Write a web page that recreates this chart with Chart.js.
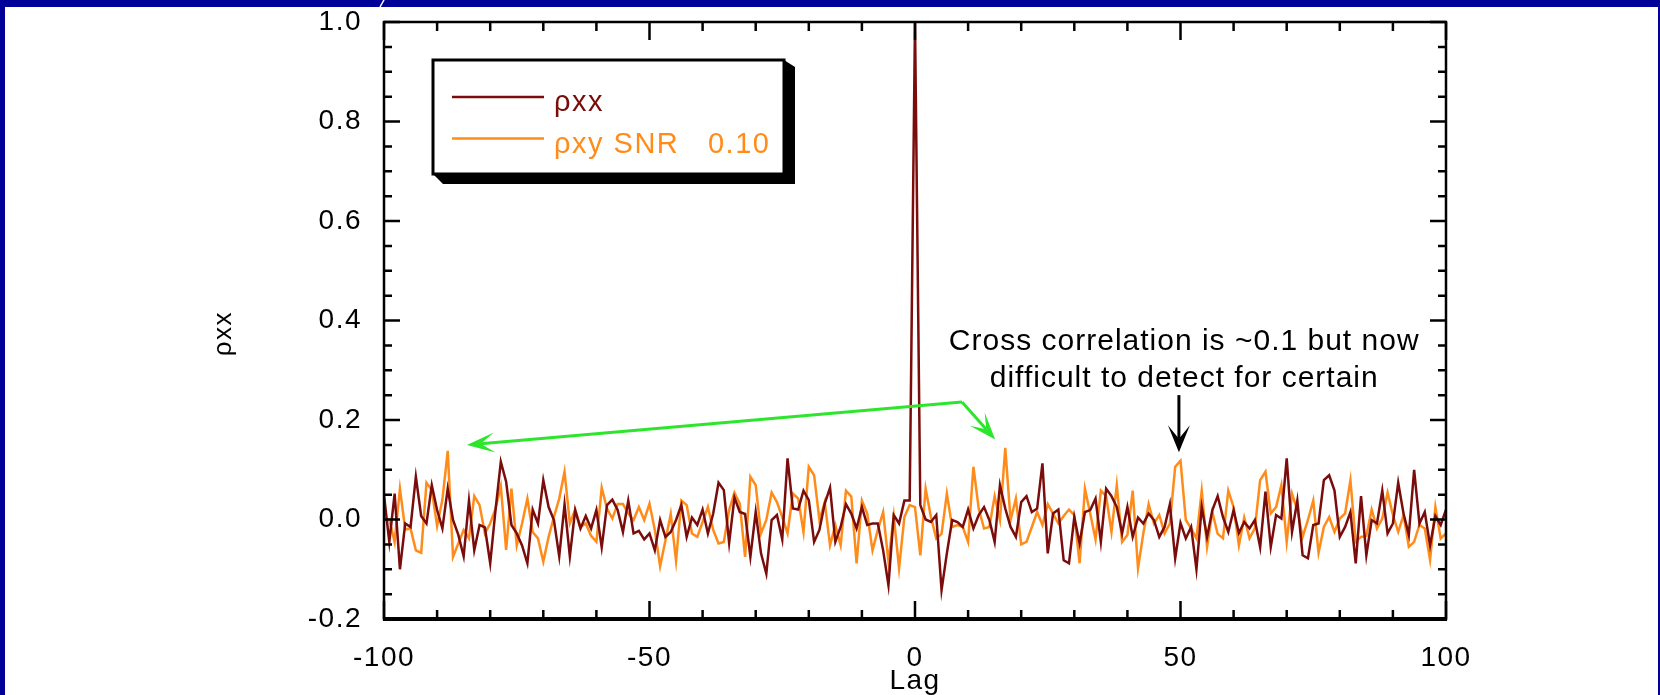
<!DOCTYPE html>
<html>
<head>
<meta charset="utf-8">
<script src="https://cdn.jsdelivr.net/npm/chart.js@4.4.0/dist/chart.umd.min.js"></script>
<style>
  html, body { margin: 0; padding: 0; overflow: hidden; width: 1660px; height: 695px; background: #fff; }
  canvas { display: block; }
</style>
</head>
<body>
<canvas id="corrChart" width="1660" height="720"></canvas>
<script>
// lag axis
const lags = [
  -100, -99, -98, -97, -96, -95, -94, -93, -92, -91, -90, -89, -88, -87, -86, -85, -84, -83, -82, -81,
  -80, -79, -78, -77, -76, -75, -74, -73, -72, -71, -70, -69, -68, -67, -66, -65, -64, -63, -62, -61,
  -60, -59, -58, -57, -56, -55, -54, -53, -52, -51, -50, -49, -48, -47, -46, -45, -44, -43, -42, -41,
  -40, -39, -38, -37, -36, -35, -34, -33, -32, -31, -30, -29, -28, -27, -26, -25, -24, -23, -22, -21,
  -20, -19, -18, -17, -16, -15, -14, -13, -12, -11, -10, -9, -8, -7, -6, -5, -4, -3, -2, -1,
  0, 1, 2, 3, 4, 5, 6, 7, 8, 9, 10, 11, 12, 13, 14, 15, 16, 17, 18, 19,
  20, 21, 22, 23, 24, 25, 26, 27, 28, 29, 30, 31, 32, 33, 34, 35, 36, 37, 38, 39,
  40, 41, 42, 43, 44, 45, 46, 47, 48, 49, 50, 51, 52, 53, 54, 55, 56, 57, 58, 59,
  60, 61, 62, 63, 64, 65, 66, 67, 68, 69, 70, 71, 72, 73, 74, 75, 76, 77, 78, 79,
  80, 81, 82, 83, 84, 85, 86, 87, 88, 89, 90, 91, 92, 93, 94, 95, 96, 97, 98, 99,
  100
];

// auto correlation
const rhoXX = [
  0.049, -0.045, 0.052, -0.100, -0.008, -0.015, 0.086, 0.007, -0.008, 0.069, 0.019, -0.018, 0.062, -0.001, -0.031, -0.074, 0.038, -0.062, -0.011, -0.016, -0.088, 0.019, 0.116, 0.076, -0.011,
  -0.028, -0.052, -0.088, 0.020, -0.008, 0.079, 0.025, -0.001, -0.074, 0.030, -0.074, 0.019, -0.018, 0.007, -0.018, 0.019, -0.056, 0.029, 0.040, 0.019, -0.025, 0.038, -0.028, -0.023, -0.040,
  -0.028, -0.062, -0.001, -0.035, -0.025, -0.001, 0.029, -0.035, 0.004, -0.011, 0.020, -0.028, 0.012, 0.074, 0.059, -0.047, 0.044, 0.015, 0.011, -0.075, 0.015, -0.068, -0.109, -0.001, 0.009, -0.040,
  0.123, 0.022, 0.020, 0.058, 0.039, -0.045, -0.021, 0.032, 0.064, -0.045, -0.015, 0.031, 0.012, -0.018, 0.025, -0.011, -0.008, -0.008, -0.062, -0.132, 0.009, -0.008, 0.038, 0.038, 1.000,
  0.029, 0.000, -0.005, 0.009, -0.142, -0.068, -0.001, -0.005, -0.015, 0.020, -0.018, 0.009, 0.025, -0.001, -0.045, 0.069, 0.022, -0.015, -0.035, 0.035, 0.047, 0.015, 0.022, 0.113, -0.068, 0.012,
  0.020, -0.082, -0.088, 0.005, -0.048, 0.015, 0.019, 0.042, -0.045, 0.062, 0.047, 0.025, -0.028, 0.025, -0.035, 0.004, -0.008, 0.012, -0.001, -0.035, -0.015, 0.031, -0.078, -0.007, -0.038,
  -0.015, -0.100, 0.025, -0.035, 0.019, 0.047, 0.005, -0.025, 0.019, -0.027, -0.005, -0.018, -0.001, -0.056, 0.056, -0.055, 0.009, 0.002, 0.123, -0.025, 0.038, -0.072, -0.078, -0.011, -0.008, 0.079,
  0.089, 0.058, -0.035, -0.015, 0.015, -0.088, 0.047, -0.072, -0.001, -0.008, 0.058, -0.028, -0.008, 0.074, 0.012, -0.031, 0.100, -0.008, 0.015, -0.052, 0.007, -0.011, 0.020
];

// cross correlation, SNR 0.10
const rhoXY = [
  0.000, 0.000, -0.045, 0.062, -0.020, -0.018, -0.062, -0.067, 0.074, 0.059, -0.013, 0.040, 0.138, -0.075, -0.048, -0.021, -0.038, 0.047, 0.029, -0.028, -0.008, 0.022, 0.067, -0.061, 0.062,
  -0.052, -0.008, 0.042, -0.025, -0.038, -0.085, -0.035, 0.005, 0.042, 0.096, -0.008, 0.020, -0.015, -0.008, -0.033, -0.045, 0.064, 0.022, 0.002, 0.031, 0.031, 0.012, -0.001, 0.025, -0.001,
  0.032, -0.021, -0.094, -0.042, 0.011, -0.083, 0.038, 0.029, -0.028, -0.035, -0.005, 0.025, -0.021, -0.048, -0.045, 0.019, 0.054, 0.032, -0.075, 0.086, 0.069, -0.028, -0.001, 0.054, 0.035, 0.005,
  -0.028, 0.052, 0.042, -0.025, 0.106, 0.089, -0.001, 0.035, -0.052, -0.011, -0.052, 0.058, 0.046, -0.088, 0.038, 0.012, -0.062, -0.021, 0.015, -0.085, 0.007, -0.098, 0.005, 0.029, 0.025,
  -0.072, 0.062, 0.005, -0.038, -0.029, 0.052, -0.015, -0.011, -0.015, -0.045, 0.106, 0.022, -0.018, -0.015, 0.047, -0.001, 0.144, -0.001, 0.042, -0.050, -0.045, -0.015, 0.015, -0.011, 0.031, 0.012,
  -0.008, 0.007, 0.020, 0.009, -0.088, 0.062, 0.012, -0.040, 0.058, 0.047, -0.025, 0.069, -0.045, -0.031, 0.058, -0.098, -0.028, 0.031, -0.008, 0.009, -0.028, -0.008, 0.106, 0.118, -0.001,
  -0.018, -0.038, 0.058, -0.055, 0.015, -0.029, -0.038, 0.058, 0.025, -0.052, 0.004, -0.038, -0.018, 0.079, 0.096, 0.012, 0.025, 0.069, -0.045, 0.052, 0.019, -0.035, -0.001, 0.038, -0.067, -0.015,
  0.005, -0.025, 0.002, 0.012, 0.079, -0.045, -0.035, -0.033, 0.020, -0.018, 0.002, 0.054, 0.009, -0.025, 0.009, -0.055, -0.045, -0.011, -0.018, -0.081, 0.025, -0.038, -0.028
];

const seriesNames = ['ρxx', 'ρxy SNR   0.10'];
const seriesColors = ['#7b0c0c', '#ff8c1a'];
const xTicks = [-100, -50, 0, 50, 100];
const yTicks = [-0.2, 0.0, 0.2, 0.4, 0.6, 0.8, 1.0];
const noteLines = ['Cross correlation is ~0.1 but now', 'difficult to detect for certain'];

document.addEventListener("DOMContentLoaded", function () {

    const FONT = "'Liberation Sans', Arial, sans-serif";
    const AXIS_SPACING = '1.5px';
    Chart.defaults.font.family = FONT;
    Chart.defaults.color = '#000';

    // arrow with a notched head, tip at (x1, y1)
    function drawArrow(ctx, x0, y0, x1, y1, color, len, half) {
        const a = Math.atan2(y1 - y0, x1 - x0);
        const cos = Math.cos(a), sin = Math.sin(a);
        const notch = len * 0.5;
        ctx.strokeStyle = color;
        ctx.fillStyle = color;
        ctx.lineWidth = 3;
        ctx.beginPath();
        ctx.moveTo(x0, y0);
        ctx.lineTo(x1 - cos * notch, y1 - sin * notch);
        ctx.stroke();
        ctx.beginPath();
        ctx.moveTo(x1, y1);
        ctx.lineTo(x1 - cos * len - sin * half, y1 - sin * len + cos * half);
        ctx.lineTo(x1 - cos * notch, y1 - sin * notch);
        ctx.lineTo(x1 - cos * len + sin * half, y1 - sin * len - cos * half);
        ctx.closePath();
        ctx.fill();
    }

    const framePlugin = {
        id: 'frame',
        beforeLayout(chart) {
            chart.ctx.letterSpacing = AXIS_SPACING;
        },
        beforeDraw(chart) {
            const ctx = chart.ctx;
            ctx.save();
            ctx.fillStyle = '#000099';
            ctx.fillRect(0, 0, chart.width, chart.height);
            ctx.fillStyle = '#fff';
            ctx.fillRect(5, 7, 1653, chart.height);
            // bit of a letter from the slide title above
            ctx.strokeStyle = '#fff';
            ctx.lineWidth = 1.5;
            ctx.beginPath();
            ctx.moveTo(384, 0);
            ctx.lineTo(380, 7);
            ctx.stroke();
            ctx.restore();
            ctx.letterSpacing = AXIS_SPACING;
        },
        afterDraw(chart) {
            const ctx = chart.ctx;
            const x = chart.scales.x, y = chart.scales.y;
            const {left, right, top, bottom} = chart.chartArea;

            ctx.save();
            ctx.letterSpacing = '0px';

            // axis box
            ctx.strokeStyle = '#000';
            ctx.lineWidth = 2.5;
            ctx.strokeRect(left, top, right - left, bottom - top);
            ctx.lineWidth = 4;
            ctx.beginPath();
            ctx.moveTo(left - 1, bottom);
            ctx.lineTo(right + 1, bottom);
            ctx.stroke();

            // inward ticks
            ctx.lineWidth = 2.5;
            ctx.beginPath();
            for (let v = -100; v <= 100; v += 10) {
                const px = x.getPixelForValue(v);
                const len = v % 50 === 0 ? 18 : 9;
                ctx.moveTo(px, bottom); ctx.lineTo(px, bottom - len);
                ctx.moveTo(px, top); ctx.lineTo(px, top + len);
            }
            for (let i = 0; i <= 24; i++) {
                const py = y.getPixelForValue(-0.2 + i * 0.05);
                const len = i % 4 === 0 ? 16 : 8;
                ctx.moveTo(left, py); ctx.lineTo(left + len, py);
                ctx.moveTo(right, py); ctx.lineTo(right - len, py);
            }
            ctx.stroke();

            // legend box with drop shadow
            const bx = 433, by = 60, bw = 351, bh = 114;
            ctx.fillStyle = '#000';
            ctx.beginPath();
            ctx.moveTo(bx + bw, by);
            ctx.lineTo(bx + bw + 11, by + 7);
            ctx.lineTo(bx + bw + 11, by + bh + 10);
            ctx.lineTo(bx + 10, by + bh + 10);
            ctx.lineTo(bx, by + bh);
            ctx.closePath();
            ctx.fill();
            ctx.fillStyle = '#fff';
            ctx.fillRect(bx, by, bw, bh);
            ctx.lineWidth = 3;
            ctx.strokeRect(bx, by, bw, bh);

            ctx.font = '29px ' + FONT;
            ctx.letterSpacing = '1.5px';
            ctx.textAlign = 'left';
            ctx.textBaseline = 'alphabetic';
            chart.data.datasets.forEach((ds, i) => {
                const ly = 97 + i * 41.5;
                ctx.strokeStyle = ds.borderColor;
                ctx.lineWidth = 2.7;
                ctx.beginPath();
                ctx.moveTo(452, ly);
                ctx.lineTo(544, ly);
                ctx.stroke();
                ctx.fillStyle = ds.borderColor;
                ctx.fillText(ds.label, 554, ly + 14);
            });

            // annotation text
            ctx.font = '30px ' + FONT;
            ctx.letterSpacing = '1px';
            ctx.textAlign = 'center';
            ctx.fillStyle = '#000';
            const tx = x.getPixelForValue(50.7);
            ctx.fillText(noteLines[0], tx, y.getPixelForValue(0.340));
            ctx.fillText(noteLines[1], tx, y.getPixelForValue(0.266));

            // arrows
            const sx = x.getPixelForValue(8.85), sy = y.getPixelForValue(0.236);
            drawArrow(ctx, sx, sy, x.getPixelForValue(-84.4), y.getPixelForValue(0.150), '#2ee52e', 28, 10);
            drawArrow(ctx, sx, sy, x.getPixelForValue(15.1), y.getPixelForValue(0.161), '#2ee52e', 27, 10);
            drawArrow(ctx, x.getPixelForValue(49.7), y.getPixelForValue(0.25),
                      x.getPixelForValue(49.7), y.getPixelForValue(0.135), '#000', 27, 11);

            ctx.restore();
            ctx.letterSpacing = AXIS_SPACING;
        }
    };

    const ctx = document.getElementById('corrChart');

    new Chart(ctx, {
        type: 'line',
        data: {
            datasets: [
                {
                    label: seriesNames[0],
                    data: lags.map((l, i) => ({x: l, y: rhoXX[i]})),
                    borderColor: seriesColors[0],
                    borderWidth: 2.5,
                    pointRadius: 0,
                    tension: 0
                },
                {
                    label: seriesNames[1],
                    data: lags.map((l, i) => ({x: l, y: rhoXY[i]})),
                    borderColor: seriesColors[1],
                    borderWidth: 2.5,
                    pointRadius: 0,
                    tension: 0
                }
            ]
        },
        options: {
            responsive: false,
            animation: false,
            devicePixelRatio: 1,
            layout: { padding: { left: 0, top: 22, right: 214, bottom: 0 } },
            plugins: {
                legend: { display: false },
                tooltip: { enabled: false }
            },
            scales: {
                x: {
                    type: 'linear',
                    min: -100,
                    max: 100,
                    grid: { display: false },
                    border: { display: false },
                    afterBuildTicks: s => { s.ticks = xTicks.map(v => ({value: v})); },
                    afterFit: s => { s.height = 101; s.paddingLeft = 0; s.paddingRight = 0; },
                    ticks: { font: { size: 28 }, padding: 14, maxRotation: 0, autoSkip: false },
                    title: { display: true, text: 'Lag', font: { size: 28 }, padding: { top: 0, bottom: 22 } }
                },
                y: {
                    min: -0.2,
                    max: 1.0,
                    grid: { display: false },
                    border: { display: false },
                    afterBuildTicks: s => { s.ticks = yTicks.map(v => ({value: v})); },
                    afterFit: s => { s.width = 384; s.paddingTop = 0; s.paddingBottom = 0; },
                    ticks: { font: { size: 28 }, padding: 14, callback: v => v.toFixed(1) },
                    // trailing spaces push the label a little below the axis centre, as in the slide
                    title: { display: true, text: 'ρxx   ', font: { size: 26 }, padding: { top: 208, bottom: 0 } }
                }
            }
        },
        plugins: [framePlugin]
    });
});
</script>
</body>
</html>
